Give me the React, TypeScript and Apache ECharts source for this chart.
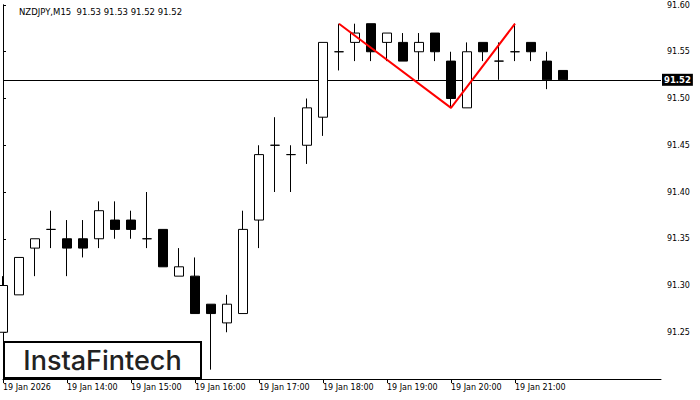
import React, { useEffect, useRef } from "react";
import * as echarts from "echarts";

const symbolName = "NZDJPY";
const periodName = "M15";
const timeLabels = [
  "19 Jan 2026",
  "19 Jan 14:00",
  "19 Jan 15:00",
  "19 Jan 16:00",
  "19 Jan 17:00",
  "19 Jan 18:00",
  "19 Jan 19:00",
  "19 Jan 20:00",
  "19 Jan 21:00",
];
const barsPerLabel = 4;
const opens = [
  91.25, 91.29, 91.34, 91.36, 91.35, 91.35, 91.35, 91.37, 91.37, 91.35, 91.36, 91.31,
  91.31, 91.28, 91.26, 91.27, 91.37, 91.45, 91.44, 91.45, 91.48, 91.55, 91.56, 91.58,
  91.56, 91.56, 91.55, 91.57, 91.54, 91.49, 91.56, 91.54, 91.55, 91.56, 91.54, 91.53,
];
const highs = [
  91.31, 91.33, 91.35, 91.38, 91.37, 91.37, 91.39, 91.39, 91.38, 91.4, 91.36, 91.34,
  91.33, 91.28, 91.29, 91.38, 91.45, 91.48, 91.45, 91.5, 91.56, 91.58, 91.58, 91.58,
  91.57, 91.57, 91.57, 91.57, 91.55, 91.56, 91.56, 91.56, 91.58, 91.56, 91.55, 91.53,
];
const lows = [
  91.25, 91.29, 91.31, 91.34, 91.31, 91.33, 91.34, 91.35, 91.35, 91.34, 91.32, 91.31,
  91.27, 91.21, 91.25, 91.27, 91.34, 91.4, 91.4, 91.43, 91.46, 91.53, 91.54, 91.54,
  91.54, 91.54, 91.52, 91.54, 91.49, 91.49, 91.54, 91.52, 91.54, 91.54, 91.51, 91.52,
];
const closes = [
  91.3, 91.33, 91.35, 91.36, 91.34, 91.34, 91.38, 91.36, 91.36, 91.35, 91.32, 91.32,
  91.27, 91.27, 91.28, 91.36, 91.44, 91.45, 91.44, 91.49, 91.56, 91.55, 91.57, 91.55,
  91.57, 91.54, 91.56, 91.55, 91.5, 91.55, 91.55, 91.54, 91.55, 91.55, 91.52, 91.52,
];
const patternBars = [21, 28, 32];
const patternPrices = [91.58, 91.49, 91.58];
const currentPrice = 91.52;
const priceMin = 91.2;
const priceMax = 91.6;
const priceStep = 0.05;
const xMax = 41.125;

export default function App() {
  const ref = useRef<HTMLDivElement>(null);

  useEffect(() => {
    document.body.style.margin = "0";
    const chart = echarts.init(ref.current!, undefined, { renderer: "svg" });
    const n = opens.length;
    const last = n - 1;
    const titleText = `${symbolName},${periodName}  ${opens[last].toFixed(2)} ${highs[last].toFixed(2)} ${lows[last].toFixed(2)} ${closes[last].toFixed(2)}`;
    const tickVals = timeLabels.map((_, i) => i * barsPerLabel);
    const candleData = opens.map((o, i) => [i, o, closes[i], lows[i], highs[i]]);
    const patternData = patternBars.map((b, i) => [b, patternPrices[i]]);
    const font = "DejaVu Sans";

    chart.setOption({
      animation: false,
      backgroundColor: "#fff",
      title: {
        text: titleText,
        left: 14,
        top: 2,
        textStyle: { fontSize: 8.5, fontWeight: "normal", color: "#000", fontFamily: font },
      },
      grid: { left: 3, right: 39, top: 5, bottom: 21, containLabel: false },
      xAxis: {
        type: "value",
        min: 0,
        max: xMax,
        interval: barsPerLabel,
        position: "bottom",
        axisLine: { show: true, onZero: false, lineStyle: { color: "#000", width: 1 } },
        axisTick: { show: true, length: 4, customValues: tickVals, lineStyle: { color: "#000" } },
        axisLabel: {
          customValues: tickVals,
          formatter: (v: number) => timeLabels[Math.round(v / barsPerLabel)] ?? "",
          align: "left",
          margin: 4,
          fontSize: 8,
          color: "#000",
          fontFamily: font,
          showMinLabel: true,
        },
        splitLine: { show: false },
      },
      yAxis: [
        {
          type: "value",
          position: "right",
          min: priceMin,
          max: priceMax,
          interval: priceStep,
          axisLine: { show: true, lineStyle: { color: "#000", width: 1 } },
          axisTick: { show: true, length: 3, lineStyle: { color: "#000" } },
          axisLabel: {
            formatter: (v: number) => v.toFixed(2),
            margin: 6,
            fontSize: 8,
            color: "#000",
            fontFamily: font,
            showMinLabel: false,
          },
          splitLine: { show: false },
        },
        {
          type: "value",
          position: "left",
          min: priceMin,
          max: priceMax,
          interval: priceStep,
          axisLine: { show: true, lineStyle: { color: "#000", width: 1 } },
          axisTick: { show: false },
          axisLabel: { show: false },
          splitLine: { show: false },
        },
      ],
      series: [
        {
          type: "candlestick",
          data: candleData,
          encode: { x: 0, y: [1, 2, 3, 4] },
          yAxisIndex: 0,
          barWidth: 9,
          z: 3,
          itemStyle: {
            color: "#fff",
            color0: "#000",
            borderColor: "#000",
            borderColor0: "#000",
            borderColorDoji: "#000",
            borderWidth: 1,
          },
          markLine: {
            silent: true,
            z: 1,
            symbol: ["none", "none"],
            data: [{ yAxis: currentPrice }],
            lineStyle: { color: "#000", width: 1, type: "solid" },
            label: {
              show: true,
              position: "end",
              distance: 1,
              formatter: currentPrice.toFixed(2),
              color: "#fff",
              backgroundColor: "#000",
              padding: [2, 2, 1, 2],
              fontSize: 8.5,
              fontWeight: "bold",
              fontFamily: font,
            },
          },
        },
        {
          type: "line",
          data: patternData,
          yAxisIndex: 0,
          symbol: "none",
          z: 5,
          lineStyle: { color: "#ff0000", width: 2 },
        },
      ],
      graphic: [
        {
          type: "group",
          left: 3,
          top: 341,
          children: [
            {
              type: "rect",
              shape: { x: 1, y: 1, width: 197, height: 36 },
              style: { fill: "#fff", stroke: "#000", lineWidth: 2 },
            },
            {
              type: "text",
              x: 99.5,
              y: 19,
              style: {
                text: "InstaFintech",
                fontSize: 27,
                fontWeight: 500,
                fontFamily: "Inter",
                fill: "#222",
                textAlign: "center",
                textVerticalAlign: "middle",
              },
            },
          ],
        },
      ],
    });
    return () => chart.dispose();
  }, []);

  return (
    <div
      ref={ref}
      style={{ position: "absolute", left: 0, top: 0, width: 700, height: 400 }}
    />
  );
}
